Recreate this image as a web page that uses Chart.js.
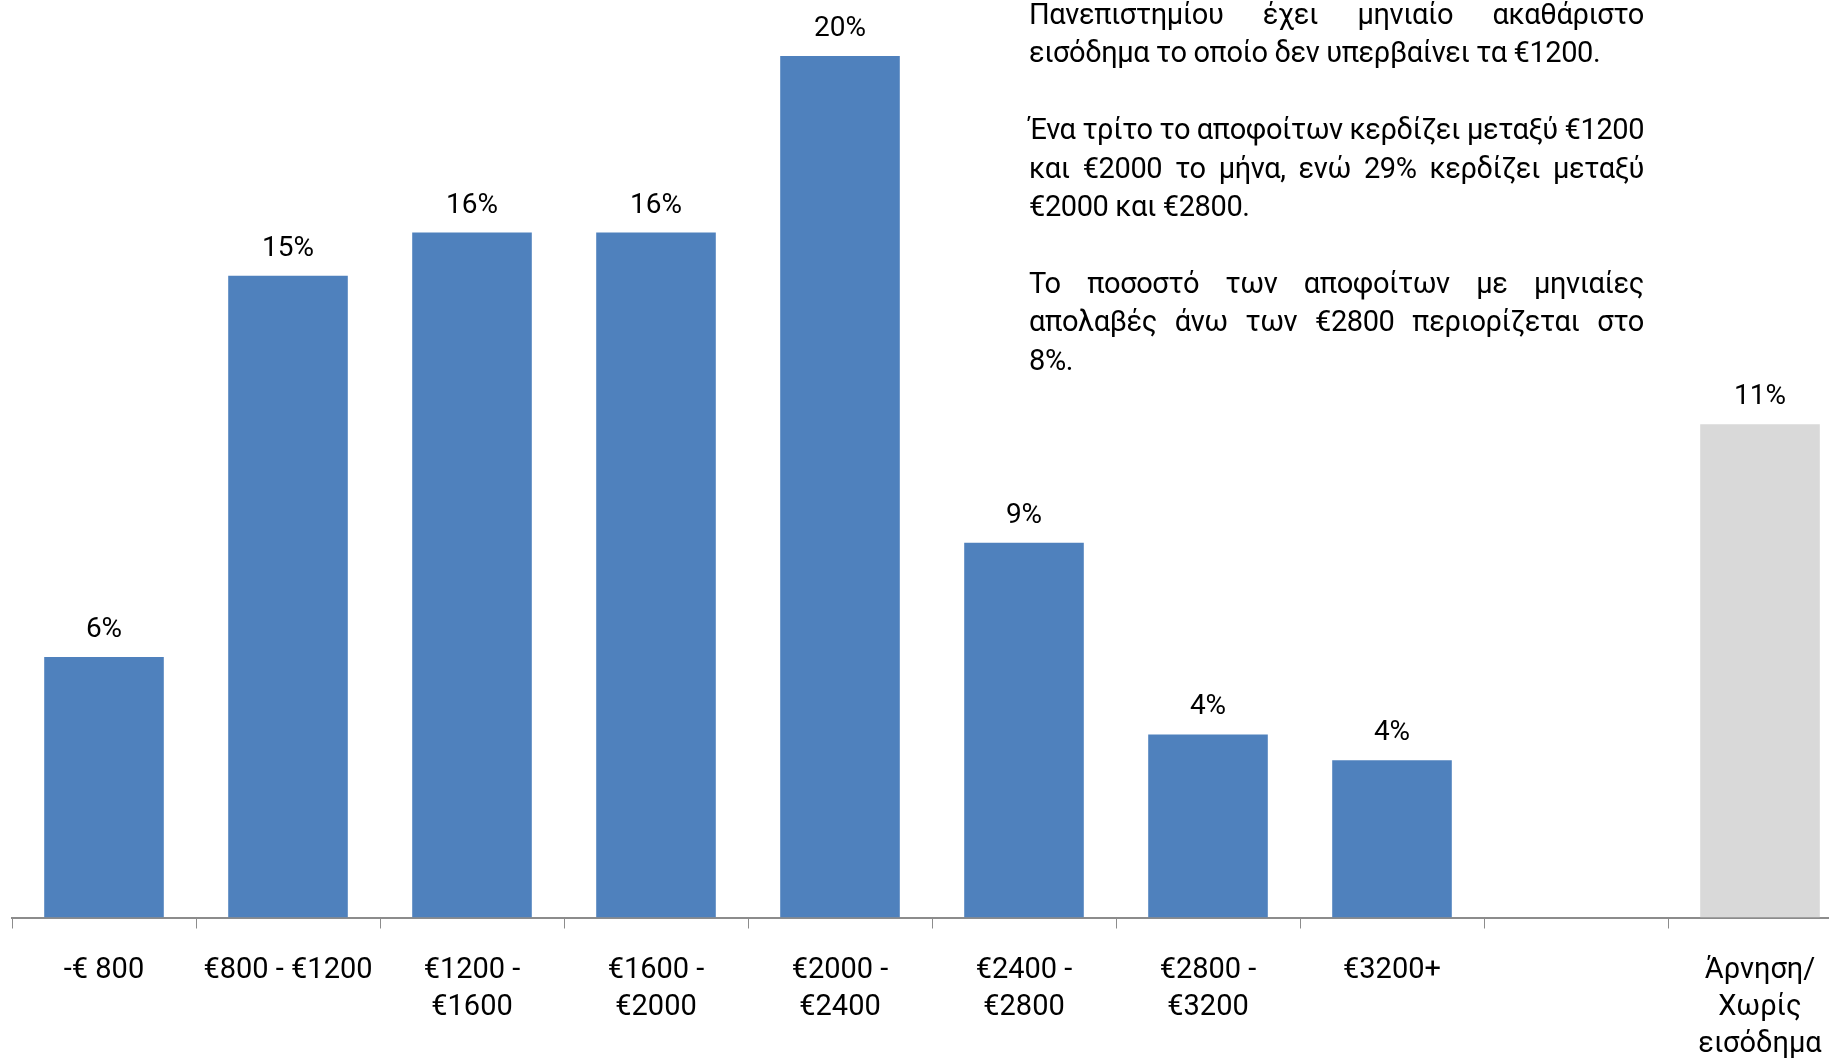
<!DOCTYPE html>
<html>
<head>
<meta charset="utf-8">
<title>Μηνιαίο εισόδημα αποφοίτων</title>
<script src="https://cdn.jsdelivr.net/npm/chart.js@4"></script>
<style>
  html, body { margin: 0; padding: 0; background: #fff; overflow: hidden; }
  #wrap { position: relative; width: 1864px; height: 1087px; }
  #note {
    position: absolute; left: 1029px; top: -5px; width: 615px;
    font-family: Roboto, "Open Sans", sans-serif; font-size: 29px;
    letter-spacing: -0.4px; line-height: 38.4px; color: #000;
  }
  #note div { text-align: justify; text-align-last: justify; white-space: nowrap; }
  #note div.end { text-align-last: left; }
  #note div.gap { height: 38.4px; }
</style>
</head>
<body>
<div id="wrap">
  <canvas id="income" width="1864" height="1087"></canvas>
  <div id="note">
    <div>Πανεπιστημίου έχει μηνιαίο ακαθάριστο</div>
    <div class="end">εισόδημα το οποίο δεν υπερβαίνει τα €1200.</div>
    <div class="gap"></div>
    <div>Ένα τρίτο το αποφοίτων κερδίζει μεταξύ €1200</div>
    <div>και €2000 το μήνα, ενώ 29% κερδίζει μεταξύ</div>
    <div class="end">€2000 και €2800.</div>
    <div class="gap"></div>
    <div>Το ποσοστό των αποφοίτων με μηνιαίες</div>
    <div>απολαβές άνω των €2800 περιορίζεται στο</div>
    <div class="end">8%.</div>
  </div>
</div>
<script>
// income bands (multi-line labels as arrays)
const bands = [
  '-€ 800',
  '€800 - €1200',
  ['€1200 -', '€1600'],
  ['€1600 -', '€2000'],
  ['€2000 -', '€2400'],
  ['€2400 -', '€2800'],
  ['€2800 -', '€3200'],
  '€3200+',
  '',
  ['Άρνηση/', 'Χωρίς', 'εισόδημα']
];
// share of graduates per band, %
const shares = [6.05, 14.9, 15.9, 15.9, 20.0, 8.7, 4.25, 3.65, null, 11.45];
const barColors = ['#4F81BD', '#4F81BD', '#4F81BD', '#4F81BD', '#4F81BD',
                   '#4F81BD', '#4F81BD', '#4F81BD', '#4F81BD', '#D9D9D9'];

const FONT = 'Roboto, "Open Sans", sans-serif';

// percentage labels above each bar
const valueLabels = {
  id: 'valueLabels',
  afterDatasetsDraw(chart) {
    const ctx = chart.ctx;
    const meta = chart.getDatasetMeta(0);
    ctx.save();
    ctx.font = '28px ' + FONT;
    ctx.fillStyle = '#000';
    ctx.textAlign = 'center';
    ctx.textBaseline = 'middle';
    meta.data.forEach((bar, i) => {
      const v = shares[i];
      if (v === null) return;
      ctx.fillText(Math.round(v) + '%', bar.x, bar.y - 27);
    });
    ctx.restore();
  }
};

new Chart(document.getElementById('income'), {
  type: 'bar',
  data: {
    labels: bands,
    datasets: [{
      data: shares,
      backgroundColor: barColors,
      borderWidth: 0,
      categoryPercentage: 1,
      barPercentage: 0.65
    }]
  },
  options: {
    responsive: false,
    animation: false,
    devicePixelRatio: 1,
    layout: { padding: { left: 12, right: 12, top: 0, bottom: 0 } },
    plugins: {
      legend: { display: false },
      tooltip: { enabled: false }
    },
    scales: {
      x: {
        grid: {
          offset: true,
          drawOnChartArea: false,
          drawTicks: true,
          tickLength: 11,
          color: '#8c8c8c',
          lineWidth: 1
        },
        border: { display: true, color: '#8c8c8c', width: 2 },
        ticks: {
          autoSkip: false,
          maxRotation: 0,
          minRotation: 0,
          padding: 24,
          color: '#000',
          font: { family: FONT, size: 29, lineHeight: 1.27 }
        }
      },
      y: {
        display: false,
        min: 0,
        max: 21.3
      }
    }
  },
  plugins: [valueLabels]
});
</script>
</body>
</html>
